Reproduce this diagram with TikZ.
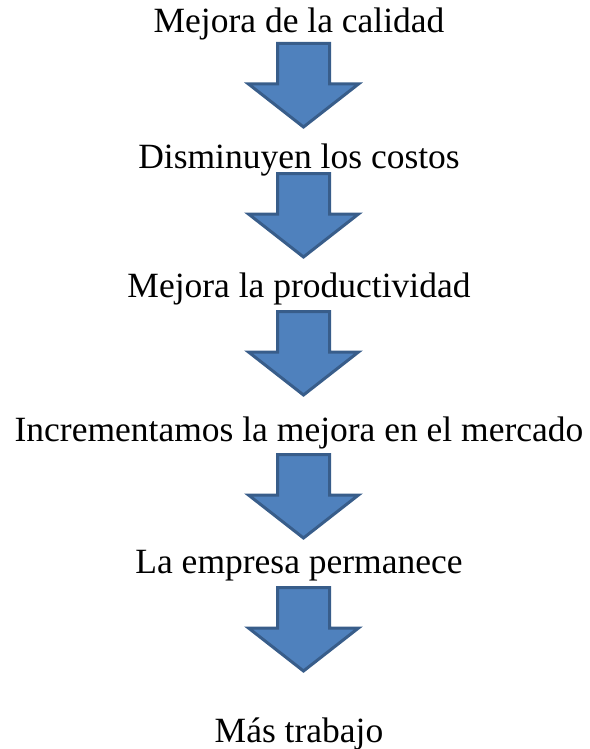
\documentclass[tikz,border=0pt]{standalone}
\usepackage{fontspec}
\setmainfont{Liberation Serif}
\usetikzlibrary{calc}
\definecolor{arrowfill}{RGB}{79,129,189}
\definecolor{arrowdraw}{RGB}{56,93,138}

\begin{document}
\begin{tikzpicture}[
      x=1pt, y=1pt,
      stage/.style={anchor=base, inner sep=0pt, font=\fontsize{35.5}{40}\selectfont},
      bigarrow/.style={draw=arrowdraw, fill=arrowfill, line width=3pt,
        to path={let \p1=(\tikztostart), \p2=(\tikztotarget) in
          (\x1-26pt,\y1) -- (\x1+26pt,\y1) -- (\x1+26pt,\y2+43pt) -- (\x1+55pt,\y2+43pt)
          -- (\x2,\y2) -- (\x1-55pt,\y2+43pt) -- (\x1-26pt,\y2+43pt) -- cycle}}
    ]
    \useasboundingbox (0,0) rectangle (589,-749);

    \node[stage] (calidad) at (299,-33) {Mejora de la calidad};
    \node[stage] (costos) at (299,-168) {Disminuyen los costos};
    \node[stage] (productividad) at (299,-297) {Mejora la productividad};
    \node[stage] (mercado) at (299,-441) {Incrementamos la mejora en el mercado};
    \node[stage] (empresa) at (299,-573) {La empresa permanece};
    \node[stage] (trabajo) at (299,-742) {Más trabajo};

    \coordinate (top1) at (303.5,-43.5);
    \coordinate (tip1) at (303.5,-127);
    \coordinate (top2) at (303.5,-173.5);
    \coordinate (tip2) at (303.5,-257);
    \coordinate (top3) at (303.5,-311.5);
    \coordinate (tip3) at (303.5,-395);
    \coordinate (top4) at (303.5,-454.5);
    \coordinate (tip4) at (303.5,-538);
    \coordinate (top5) at (303.5,-587.5);
    \coordinate (tip5) at (303.5,-671);

    \draw[bigarrow] (top1) to (tip1);
    \draw[bigarrow] (top2) to (tip2);
    \draw[bigarrow] (top3) to (tip3);
    \draw[bigarrow] (top4) to (tip4);
    \draw[bigarrow] (top5) to (tip5);
    \end{tikzpicture}
\end{document}
